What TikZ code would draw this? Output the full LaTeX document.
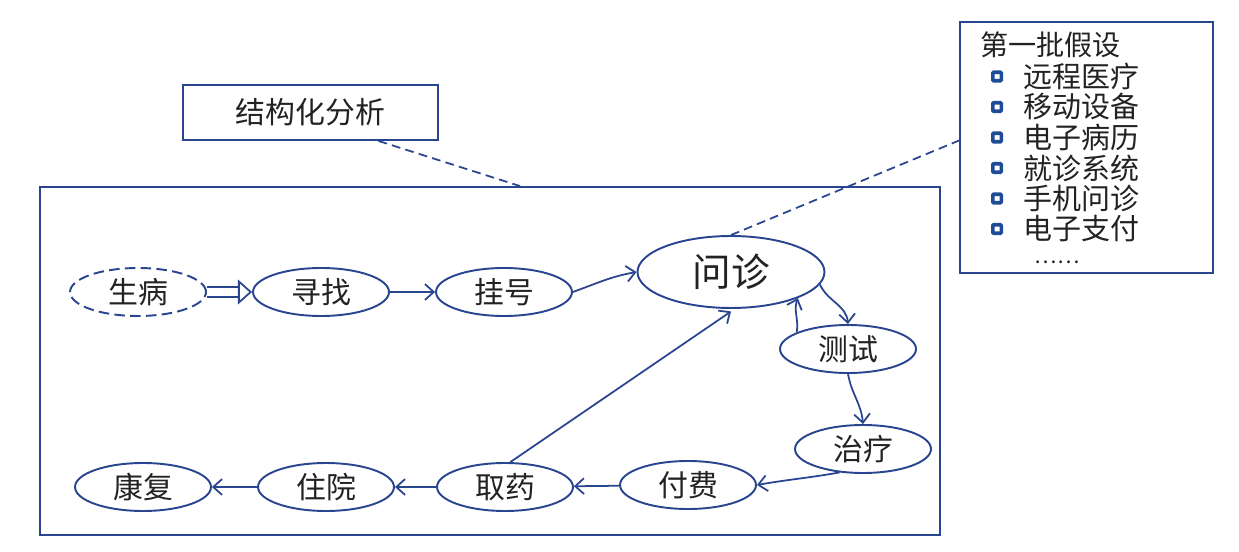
\documentclass[tikz,border=0pt]{standalone}
\usepackage{fontspec}
\newfontfamily\cjk{Noto Sans CJK SC}
\usepackage{tikz}
\usetikzlibrary{arrows.meta,positioning,shapes.geometric,calc}
\definecolor{sketchblue}{HTML}{2A4590}
\definecolor{bulletblue}{HTML}{1F4C96}
\definecolor{inkgray}{HTML}{222222}

\begin{document}
\begin{tikzpicture}[x=0.02cm, y=0.02cm, >={Straight Barb[length=5pt,width=9pt]},
  every node/.style={font=\cjk\fontsize{17}{20}\selectfont, text=inkgray},
  stage/.style={draw=sketchblue, line width=1.1pt, ellipse, minimum width=2.72cm, minimum height=0.96cm, inner sep=0pt},
  frame/.style={draw=sketchblue, line width=1.1pt, rectangle, inner sep=0pt},
  flow/.style={->, sketchblue, line width=1pt},
  note/.style={sketchblue, line width=1pt, dash pattern=on 5pt off 3pt}]
  \useasboundingbox (0,0) rectangle (1239,551);

  % boxes
  \node[frame, minimum width=5.1cm, minimum height=1.1cm] (method) at (310.5,438.5) {结构化分析};
  \node[frame, minimum width=18cm, minimum height=6.96cm] (scope) at (490,190) {};
  \node[frame, minimum width=5.06cm, minimum height=5.02cm] (hypbox) at (1086.5,403.5) {};

  % hypotheses
  \node[anchor=west, font=\cjk\fontsize{16}{19}\selectfont] (hyptitle) at (974,506) {第一批假设};
  \foreach \txt [count=\k] in {远程医疗,移动设备,电子病历,就诊系统,手机问诊,电子支付} {
    \node[draw=bulletblue, line width=2pt, rectangle, rounded corners=0.5pt, minimum size=0.17cm, inner sep=0pt] (bul\k) at (997,505-30.5*\k) {};
    \node[anchor=west, font=\cjk\fontsize{16.5}{19}\selectfont] (hyp\k) at (1017,505-30.5*\k) {\txt};
  }
  \node[font=\cjk\fontsize{12}{12}\selectfont, inner sep=1pt] (hypmore) at (1057,289) {……};

  % process
  \node[stage, dashed, dash pattern=on 6pt off 3pt] (ill) at (138,259) {生病};
  \node[stage] (seek) at (321,259) {寻找};
  \node[stage] (register) at (504,259) {挂号};
  \node[stage, minimum width=3.74cm, minimum height=1.44cm, font=\cjk\fontsize{22}{26}\selectfont] (consult) at (731,279) {问诊};
  \node[stage] (test) at (848,202) {测试};
  \node[stage] (treat) at (863,102) {治疗};
  \node[stage] (pay) at (688,66) {付费};
  \node[stage] (drug) at (505,64) {取药};
  \node[stage] (stay) at (326,64) {住院};
  \node[stage] (recover) at (143,64) {康复};

  \draw[sketchblue, line width=1pt, double, double distance=4.5pt, -{Triangle[open, length=8pt, width=14pt]}] (ill) -- (seek);
  \draw[flow] (seek) -- (register);
  \draw[flow] (register.east) to[out=20, in=190] (consult.west);
  \draw[flow] (consult.-8) to[out=-65, in=95] (test.north);
  \draw[flow] (test.162) to[out=80, in=250] (consult.south east);
  \draw[flow] (test.south) to[out=-80, in=95] (treat.north);
  \draw[flow] (treat.225) to[out=190, in=10] (pay.east);
  \draw[flow] (pay) -- (drug);
  \draw[flow] (drug) -- (stay);
  \draw[flow] (stay) -- (recover);
  \draw[flow] (drug.78) -- ([yshift=-0.05cm]consult.south);

  % callouts
  \draw[note] ([xshift=1.36cm]method.south) -- ([xshift=0.6cm]scope.north);
  \draw[note] (consult.north) -- ([yshift=0.14cm]hypbox.west);
\end{tikzpicture}
\end{document}
